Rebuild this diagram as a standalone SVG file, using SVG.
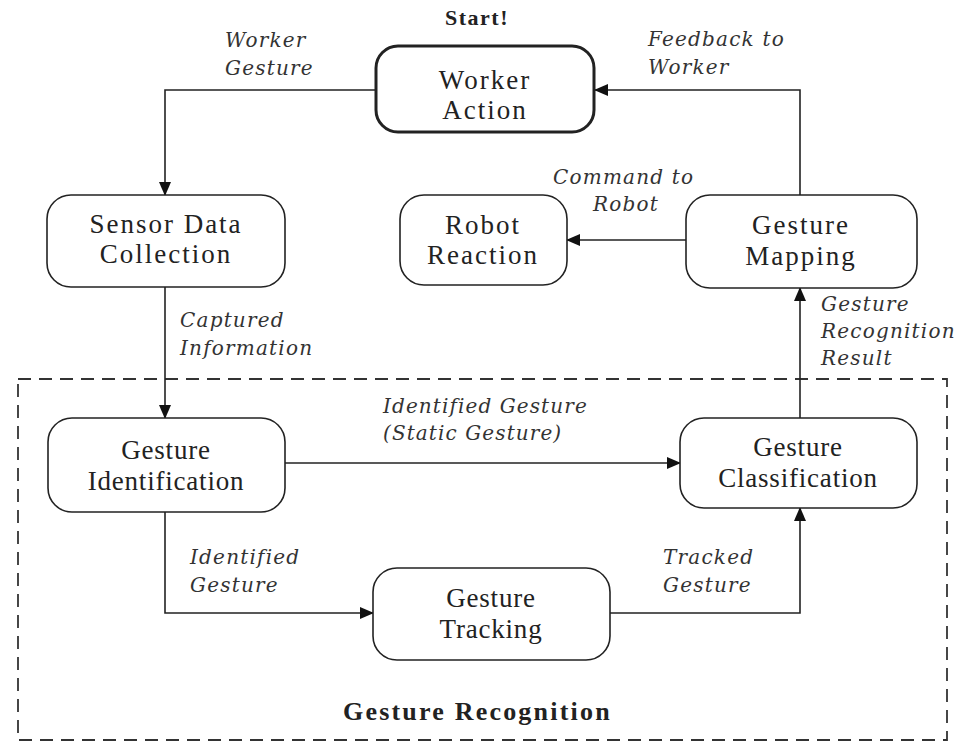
<svg xmlns="http://www.w3.org/2000/svg" width="974" height="743" viewBox="0 0 974 743">
<defs>
<marker id="ah" markerWidth="14" markerHeight="12" refX="13" refY="6" orient="auto" markerUnits="userSpaceOnUse">
<path d="M0,0 L14,6 L0,12 Z" fill="#111"/>
</marker>
<style>
.box{fill:#fff;stroke:#222;stroke-width:1.6}
.thick{stroke-width:3}
.nt{font-family:"Liberation Serif","Times New Roman",serif;font-size:27px;fill:#222;text-anchor:middle;letter-spacing:2px}
.nb{letter-spacing:0.8px}
.lb{font-family:"DejaVu Serif",serif;font-size:20px;font-style:italic;fill:#333;letter-spacing:1.2px}
.bd{font-family:"Liberation Serif","Times New Roman",serif;font-size:26px;font-weight:bold;fill:#222;letter-spacing:2.2px}
.ln{fill:none;stroke:#222;stroke-width:1.6}
</style>
</defs>
<rect width="974" height="743" fill="#fff"/>
<g id="gesture-recognition-group">
<rect x="18" y="379" width="929" height="361" fill="none" stroke="#333" stroke-width="1.8" stroke-dasharray="13,8"/>
<text class="bd" x="343" y="720">Gesture Recognition</text>
</g>
<text class="bd" x="445" y="25" style="font-size:22px;letter-spacing:1.5px">Start!</text>
<g id="connectors">
<path class="ln" d="M375,90 H165 V195" marker-end="url(#ah)"/>
<path class="ln" d="M165,287 V418" marker-end="url(#ah)"/>
<path class="ln" d="M285,463 H680" marker-end="url(#ah)"/>
<path class="ln" d="M165,512 V613 H373" marker-end="url(#ah)"/>
<path class="ln" d="M610,613 H800 V508" marker-end="url(#ah)"/>
<path class="ln" d="M800,418 V288" marker-end="url(#ah)"/>
<path class="ln" d="M800,195 V90 H595" marker-end="url(#ah)"/>
<path class="ln" d="M686,240 H567" marker-end="url(#ah)"/>
<text class="lb" x="225" y="47">Worker</text>
<text class="lb" x="225" y="75">Gesture</text>
<text class="lb" x="180" y="327">Captured</text>
<text class="lb" x="180" y="355">Information</text>
<text class="lb" x="383" y="413" style="letter-spacing:1.1px">Identified Gesture</text>
<text class="lb" x="383" y="440" style="letter-spacing:1.1px">(Static Gesture)</text>
<text class="lb" x="190" y="564">Identified</text>
<text class="lb" x="190" y="592">Gesture</text>
<text class="lb" x="663" y="564">Tracked</text>
<text class="lb" x="663" y="592">Gesture</text>
<text class="lb" x="821" y="311">Gesture</text>
<text class="lb" x="821" y="338">Recognition</text>
<text class="lb" x="821" y="365">Result</text>
<text class="lb" x="553" y="184">Command to</text>
<text class="lb" x="593" y="211">Robot</text>
<text class="lb" x="648" y="46">Feedback to</text>
<text class="lb" x="648" y="74">Worker</text>
</g>
<g id="worker-action">
<rect class="box thick" x="376" y="46" width="218" height="86" rx="22"/>
<text class="nt" x="485" y="89">Worker</text>
<text class="nt" x="485" y="119">Action</text>
</g>
<g id="sensor-data-collection">
<rect class="box" x="47" y="195" width="238" height="92" rx="24"/>
<text class="nt" x="166" y="233">Sensor Data</text>
<text class="nt" x="166" y="263">Collection</text>
</g>
<g id="robot-reaction">
<rect class="box" x="400" y="195" width="167" height="90" rx="24"/>
<text class="nt" x="483" y="234">Robot</text>
<text class="nt" x="483" y="264">Reaction</text>
</g>
<g id="gesture-mapping">
<rect class="box" x="686" y="195" width="231" height="93" rx="24"/>
<text class="nt" x="801" y="234">Gesture</text>
<text class="nt" x="801" y="265">Mapping</text>
</g>
<g id="gesture-identification">
<rect class="box" x="48" y="418" width="237" height="94" rx="24"/>
<text class="nt nb" x="166" y="459">Gesture</text>
<text class="nt nb" x="166" y="490">Identification</text>
</g>
<g id="gesture-classification">
<rect class="box" x="680" y="418" width="237" height="90" rx="24"/>
<text class="nt nb" x="798" y="456">Gesture</text>
<text class="nt nb" x="798" y="487">Classification</text>
</g>
<g id="gesture-tracking">
<rect class="box" x="373" y="568" width="237" height="92" rx="24"/>
<text class="nt nb" x="491" y="607">Gesture</text>
<text class="nt nb" x="491" y="638">Tracking</text>
</g>
</svg>
